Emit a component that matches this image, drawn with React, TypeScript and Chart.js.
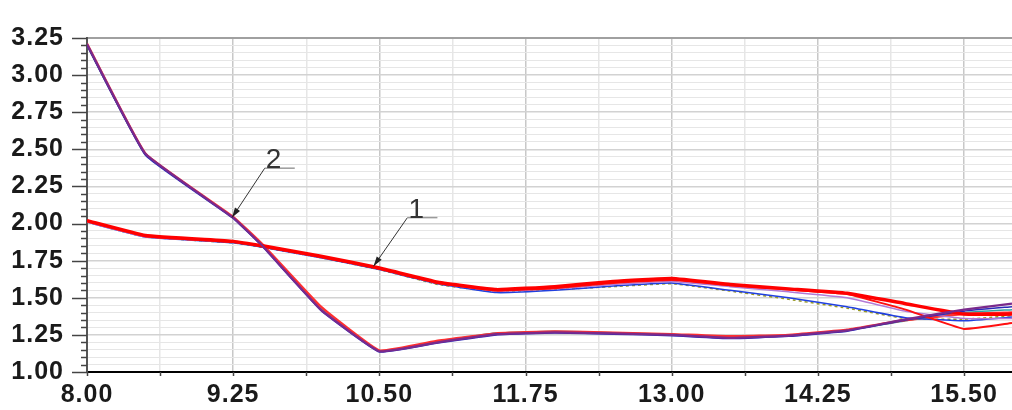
import React, { useEffect, useRef } from 'react';
import { Chart, registerables } from 'chart.js';

Chart.register(...registerables);

// ---- data ----
const xValues = [8, 8.5, 9.25, 9.5, 10, 10.5, 11, 11.5, 12, 12.5, 13, 13.5, 14, 14.5, 15, 15.5, 15.91];

// bundle 1
const c1Red = [2.02, 1.92, 1.88, 1.85, 1.78, 1.70, 1.605, 1.555, 1.575, 1.61, 1.63, 1.59, 1.56, 1.53, 1.46, 1.39, 1.39];
const c1RedLow = [2.015, 1.915, 1.875, 1.845, 1.775, 1.695, 1.60, 1.55, 1.565, 1.60, 1.62, 1.585, 1.555, 1.525, 1.42, 1.29, 1.33];
const c1Violet = [2.01, 1.91, 1.875, 1.845, 1.775, 1.695, 1.60, 1.545, 1.56, 1.59, 1.61, 1.575, 1.54, 1.50, 1.41, 1.36, 1.36];
const c1Blue = [2.01, 1.91, 1.87, 1.84, 1.77, 1.69, 1.595, 1.535, 1.55, 1.58, 1.60, 1.55, 1.50, 1.44, 1.365, 1.345, 1.37];
const c1Olive = [2.01, 1.91, 1.87, 1.84, 1.77, 1.69, 1.59, 1.54, 1.555, 1.575, 1.595, 1.545, 1.49, 1.43, 1.36, 1.355, 1.38];

// bundle 2
const c2Purple = [3.21, 2.47, 2.04, 1.85, 1.42, 1.14, 1.20, 1.255, 1.267, 1.26, 1.25, 1.23, 1.245, 1.28, 1.355, 1.42, 1.46];
const c2Red = [3.21, 2.47, 2.045, 1.86, 1.44, 1.145, 1.21, 1.26, 1.272, 1.265, 1.255, 1.24, 1.25, 1.285, 1.35, 1.39, 1.40];
const c2Blue = [3.20, 2.46, 2.035, 1.845, 1.415, 1.135, 1.195, 1.25, 1.262, 1.255, 1.245, 1.225, 1.24, 1.275, 1.35, 1.41, 1.44];
const c2Teal = [3.20, 2.465, 2.04, 1.85, 1.425, 1.14, 1.205, 1.262, 1.275, 1.265, 1.255, 1.235, 1.245, 1.28, 1.345, 1.40, 1.42];

// ticks
const xTickLabels = ['8.00', '9.25', '10.50', '11.75', '13.00', '14.25', '15.50'];
const yTickLabels = ['1.00', '1.25', '1.50', '1.75', '2.00', '2.25', '2.50', '2.75', '3.00', '3.25'];
const xMin = 8;
const xMax = 15.91;
const yMin = 1;
const yMax = 3.25;
const xMinorStep = 0.625;
const yMinorStep = 0.05;

// annotations (data units)
const annLabels = ['1', '2'];
const annTipX = [10.45, 9.24];
const annTipY = [1.712, 2.04];
const annTextX = [10.74, 9.52];
const annTextY = [2.04, 2.373];

const FONT = "'Liberation Sans', Arial, sans-serif";

function steps(min: number, max: number, step: number): number[] {
  const out: number[] = [];
  const n = Math.floor((max - min) / step + 1e-6);
  for (let i = 0; i <= n; i++) out.push(+(min + i * step).toFixed(4));
  return out;
}
const xTickValues = steps(xMin, xMax, xMinorStep);
const yTickValues = steps(yMin, yMax, yMinorStep);

const isMultiple = (v: number, base: number, origin: number) => {
  const r = (v - origin) / base;
  return Math.abs(r - Math.round(r)) < 1e-6;
};

const pts = (ys: number[]) => xValues.map((x, i) => ({ x, y: ys[i] }));

const decorPlugin = {
  id: 'decor',
  beforeDraw(chart: any) {
    try { chart.ctx.letterSpacing = '1px'; } catch (e) {}
  },
  afterDraw(chart: any) {
    const ctx = chart.ctx as CanvasRenderingContext2D;
    const { left, bottom } = chart.chartArea;
    const xs = chart.scales.x;
    const ys = chart.scales.y;
    ctx.save();
    ctx.setLineDash([]);
    // y tick marks
    ctx.strokeStyle = '#444';
    ctx.lineWidth = 1.5;
    for (const v of yTickValues) {
      const py = Math.round(ys.getPixelForValue(v)) + 0.5;
      const len = isMultiple(v, 0.25, yMin) ? 15 : 6;
      ctx.beginPath();
      ctx.moveTo(left - len, py);
      ctx.lineTo(left, py);
      ctx.stroke();
    }
    // x tick marks
    for (const v of xTickValues) {
      const px = Math.round(xs.getPixelForValue(v)) + 0.5;
      ctx.beginPath();
      ctx.moveTo(px, bottom);
      ctx.lineTo(px, bottom + 4);
      ctx.stroke();
    }
    // annotations
    for (let i = 0; i < annLabels.length; i++) {
      const tx = xs.getPixelForValue(annTipX[i]);
      const ty = ys.getPixelForValue(annTipY[i]);
      const ox = xs.getPixelForValue(annTextX[i]);
      const oy = ys.getPixelForValue(annTextY[i]);
      ctx.strokeStyle = '#333';
      ctx.lineWidth = 1;
      ctx.beginPath();
      ctx.moveTo(ox, oy);
      ctx.lineTo(tx, ty);
      ctx.stroke();
      const ang = Math.atan2(ty - oy, tx - ox);
      const L = 10, W = 3;
      ctx.fillStyle = '#222';
      ctx.beginPath();
      ctx.moveTo(tx, ty);
      ctx.lineTo(tx - L * Math.cos(ang) + W * Math.sin(ang), ty - L * Math.sin(ang) - W * Math.cos(ang));
      ctx.lineTo(tx - L * Math.cos(ang) - W * Math.sin(ang), ty - L * Math.sin(ang) + W * Math.cos(ang));
      ctx.closePath();
      ctx.fill();
      ctx.strokeStyle = '#9a9a9a';
      ctx.lineWidth = 1.5;
      ctx.beginPath();
      ctx.moveTo(ox, oy);
      ctx.lineTo(ox + 30, oy);
      ctx.stroke();
      ctx.fillStyle = '#333';
      ctx.font = `28px ${FONT}`;
      ctx.textAlign = 'left';
      ctx.textBaseline = 'alphabetic';
      ctx.fillText(annLabels[i], ox + 1, oy);
    }
    ctx.restore();
  },
};

export default function App() {
  const ref = useRef<HTMLCanvasElement>(null);
  useEffect(() => {
    document.body.style.margin = '0';
    const line = (label: string, data: number[], color: string, width: number, dash: number[] = []) => ({
      label,
      data: pts(data),
      borderColor: color,
      backgroundColor: color,
      borderWidth: width,
      borderDash: dash,
      pointRadius: 0,
      tension: 0.1,
      fill: false,
    });
    const chart = new Chart(ref.current as HTMLCanvasElement, {
      type: 'line',
      data: {
        datasets: [
          line('2', c2Purple, '#7a2a8c', 2.2),
          line('1', c1Red, '#ff0000', 3.5),
          line('1b', c1RedLow, '#ff1010', 2),
          line('2b', c2Blue, '#2a2ab8', 1.5),
          line('1c', c1Violet, '#b27ad6', 1.5),
          line('1d', c1Blue, '#2040e0', 1.5),
          line('1e', c1Olive, '#9a9a20', 1.5, [3, 3]),
          line('2c', c2Red, '#ff3030', 2.5),
          line('2d', c2Teal, '#30a0a0', 1.5),
        ] as any,
      },
      options: {
        animation: false,
        responsive: false,
        devicePixelRatio: 1,
        layout: { padding: { top: 25, right: 0, left: 0, bottom: 0 } },
        plugins: {
          legend: { display: false },
          tooltip: { enabled: false },
          title: { display: false },
        },
        scales: {
          x: {
            type: 'linear',
            min: xMin,
            max: xMax,
            afterBuildTicks: (s: any) => {
              s.ticks = xTickValues.map((v) => ({ value: v }));
            },
            afterFit: (s: any) => {
              s.height = 31;
              s.paddingRight = 0;
              s.paddingLeft = 0;
            },
            ticks: {
              autoSkip: false,
              maxRotation: 0,
              minRotation: 0,
              padding: 8,
              color: '#1a1a1a',
              font: { family: FONT, size: 25, weight: 'bold' },
              callback: (v: any) => {
                const idx = Math.round((Number(v) - xMin) / 1.25);
                return isMultiple(Number(v), 1.25, xMin) ? xTickLabels[idx] ?? '' : '';
              },
            },
            grid: {
              drawTicks: false,
              color: (c: any) => {
                const v = c.tick?.value;
                if (v == null) return '#e6e6e6';
                return isMultiple(v, 1.25, xMin) ? '#c8c8c8' : '#e6e6e6';
              },
              lineWidth: 1.5,
            },
            border: { color: '#000', width: 2 },
          },
          y: {
            type: 'linear',
            min: yMin,
            max: yMax,
            afterBuildTicks: (s: any) => {
              s.ticks = yTickValues.map((v) => ({ value: v }));
            },
            afterFit: (s: any) => {
              s.width = 87;
            },
            ticks: {
              autoSkip: false,
              padding: 23,
              color: '#1a1a1a',
              font: { family: FONT, size: 25, weight: 'bold' },
              callback: (v: any) => {
                const idx = Math.round((Number(v) - yMin) / 0.25);
                return isMultiple(Number(v), 0.25, yMin) ? yTickLabels[idx] ?? '' : '';
              },
            },
            grid: {
              drawTicks: false,
              color: (c: any) => {
                const v = c.tick?.value;
                if (v == null) return '#e6e6e6';
                if (Math.abs(v - yMax) < 1e-6) return '#a0a0a0';
                return isMultiple(v, 0.25, yMin) ? '#d2d2d2' : '#e6e6e6';
              },
              lineWidth: (c: any) => {
                const v = c.tick?.value;
                if (v == null) return 1;
                if (Math.abs(v - yMax) < 1e-6) return 2;
                return isMultiple(v, 0.25, yMin) ? 1.5 : 1;
              },
            },
            border: { color: '#555', width: 2 },
          },
        },
      } as any,
      plugins: [decorPlugin],
    });
    return () => chart.destroy();
  }, []);
  return (
    <div style={{ position: 'absolute', left: 0, top: 0, width: 1012, height: 410, background: '#fff' }}>
      <canvas ref={ref} width={1012} height={410} style={{ display: 'block', width: 1012, height: 410 }} />
    </div>
  );
}
